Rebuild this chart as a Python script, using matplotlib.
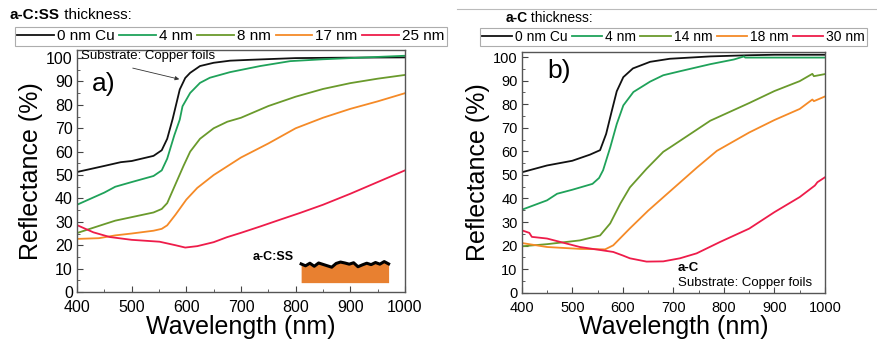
import numpy as np
import matplotlib
matplotlib.use("Agg")
from matplotlib import pyplot as plt
from matplotlib.ticker import MultipleLocator

plt.rcParams['font.family'] = ['Liberation Sans', 'DejaVu Sans']

# ---- panel a) a-C:SS on copper foils
wl_a = [400, 450, 480, 500, 540, 555, 565, 575, 588, 598, 607, 625, 650, 680, 720, 800, 900, 1000]
cu_a = [51.3, 53.9, 55.5, 56.0, 58.2, 60.6, 65.5, 74.0, 86.6, 91.5, 93.7, 96.6, 98.0, 98.9, 99.3, 100.0, 100.2, 100.3]
wl_a4 = [400, 450, 470, 500, 540, 555, 565, 578, 588, 593, 607, 625, 643, 680, 735, 790, 850, 900, 1000]
c4_a = [37.3, 42.5, 45.0, 47.0, 49.6, 52.0, 57.0, 67.0, 73.7, 79.4, 85.1, 89.4, 91.6, 94.0, 96.6, 98.7, 99.5, 100.0, 101.0]
wl_a8 = [400, 450, 470, 500, 540, 555, 565, 580, 595, 607, 625, 650, 675, 700, 750, 800, 850, 900, 950, 1000]
c8_a = [25.2, 29.0, 30.5, 32.0, 34.0, 35.5, 38.0, 46.0, 54.0, 60.0, 65.5, 70.0, 72.8, 74.5, 79.5, 83.5, 86.8, 89.3, 91.2, 92.8]
wl_a17 = [400, 440, 470, 500, 540, 555, 565, 580, 600, 620, 650, 680, 700, 750, 800, 850, 900, 950, 1000]
c17_a = [22.7, 23.0, 24.2, 25.0, 26.2, 27.0, 28.5, 33.0, 39.5, 44.5, 50.0, 54.5, 57.5, 63.5, 70.0, 74.5, 78.3, 81.5, 85.0]
wl_a25 = [400, 430, 460, 500, 551, 580, 598, 620, 650, 674, 700, 735, 770, 808, 850, 900, 950, 1000]
c25_a = [28.6, 25.5, 23.5, 22.3, 21.5, 20.0, 19.0, 19.6, 21.3, 23.4, 25.3, 28.0, 30.8, 33.8, 37.3, 42.0, 47.0, 52.0]

# ---- panel b) a-C on copper foils
wl_b = [400, 450, 500, 535, 555, 567, 578, 588, 601, 620, 654, 693, 773, 850, 900, 1000]
cu_b = [51.1, 54.0, 56.0, 58.6, 60.5, 67.4, 77.0, 85.5, 91.5, 95.2, 98.0, 99.3, 100.3, 100.8, 101.0, 101.0]
wl_b4 = [400, 450, 470, 500, 540, 553, 561, 575, 588, 601, 621, 654, 680, 713, 773, 820, 840, 842, 1000]
c4_b = [35.2, 39.2, 42.0, 43.7, 46.2, 48.7, 52.0, 61.6, 71.6, 79.5, 85.2, 89.6, 92.3, 94.0, 97.0, 99.0, 100.3, 99.8, 99.8]
wl_b14 = [400, 450, 515, 555, 575, 595, 614, 647, 680, 693, 733, 773, 850, 900, 950, 975, 978, 1000]
c14_b = [19.7, 20.6, 22.2, 24.3, 29.4, 37.8, 44.7, 52.6, 59.8, 61.6, 67.3, 73.0, 80.5, 85.6, 89.8, 92.9, 91.9, 92.8]
wl_b18 = [400, 450, 515, 565, 581, 614, 650, 680, 746, 786, 850, 900, 950, 975, 978, 1000]
c18_b = [21.1, 19.4, 18.6, 18.4, 20.1, 27.3, 34.8, 40.5, 53.0, 60.2, 68.0, 73.3, 78.0, 82.0, 81.3, 83.3]
wl_b30 = [400, 415, 420, 450, 515, 581, 600, 614, 647, 680, 713, 746, 792, 850, 900, 950, 980, 985, 1000]
c30_b = [26.5, 25.4, 23.7, 23.0, 19.4, 17.3, 15.8, 14.6, 13.2, 13.3, 14.6, 16.7, 21.5, 27.2, 34.2, 40.6, 45.5, 46.9, 49.0]

# schematic film profile (inset of panel a)
film_x = [810, 818, 826, 834, 842, 850, 858, 866, 874, 882, 890, 898, 906, 914, 922, 930, 938, 946, 954, 962, 970]
film_top = [12.0, 11.2, 12.3, 11.0, 12.4, 11.8, 11.2, 10.6, 12.2, 12.8, 12.4, 11.9, 12.5, 10.8, 11.6, 12.3, 11.7, 12.6, 11.9, 13.0, 12.0]

colors = ['#111111', '#1fa25a', '#6a9a2c', '#f58a27', '#ee1c4a']
labels_a = ['0 nm Cu', '4 nm', '8 nm', '17 nm', '25 nm']
labels_b = ['0 nm Cu', '4 nm', '14 nm', '18 nm', '30 nm']

fig = plt.figure(figsize=(8.77, 3.56), dpi=100)
ax1 = fig.add_axes([0.0878, 0.1798, 0.374, 0.680])
ax2 = fig.add_axes([0.5949, 0.1778, 0.3458, 0.677])

series_a = [(wl_a, cu_a), (wl_a4, c4_a), (wl_a8, c8_a), (wl_a17, c17_a), (wl_a25, c25_a)]
series_b = [(wl_b, cu_b), (wl_b4, c4_b), (wl_b14, c14_b), (wl_b18, c18_b), (wl_b30, c30_b)]

lines_a = []
for (x, y), c, l in zip(series_a, colors, labels_a):
    ln, = ax1.plot(x, y, color=c, lw=1.3, label=l)
    lines_a.append(ln)
lines_b = []
for (x, y), c, l in zip(series_b, colors, labels_b):
    ln, = ax2.plot(x, y, color=c, lw=1.3, label=l)
    lines_b.append(ln)

for ax, top, fs in ((ax1, 103.5, 11.5), (ax2, 102.3, 10.5)):
    ax.set_xlim(400, 1000)
    ax.set_ylim(0, top)
    ax.xaxis.set_major_locator(MultipleLocator(100))
    ax.xaxis.set_minor_locator(MultipleLocator(50))
    ax.yaxis.set_major_locator(MultipleLocator(10))
    ax.yaxis.set_minor_locator(MultipleLocator(5))
    ax.tick_params(which='both', direction='in', labelsize=fs, color='#444444', pad=3)
    ax.tick_params(axis='x', which='major', pad=6)
    ax.tick_params(which='major', length=4)
    ax.tick_params(which='minor', length=2)
    for s in ax.spines.values():
        s.set_color('#555555')
        s.set_linewidth(1.0)
    ax.set_xlabel('Wavelength (nm)', fontsize=18, labelpad=0)
    ax.set_ylabel('Reflectance (%)', fontsize=18, labelpad=2)

# panel a annotations
ax1.text(408, 101, 'Substrate: Copper foils', fontsize=9.5, va='center', ha='left')
ax1.annotate('', xy=(592, 90.7), xytext=(497, 96),
             arrowprops=dict(arrowstyle='-|>', color='#333333', lw=0.6, mutation_scale=6))
ax1.text(427, 89, 'a)', fontsize=19, va='center', ha='left')
ax1.fill_between(film_x, 4, film_top, color='#e88030', lw=0)
ax1.plot(film_x, film_top, color='black', lw=2.2)
ax1.text(722, 15, 'a-C:SS', fontsize=9, fontweight='bold', va='center', ha='left')

# panel b annotations
ax2.text(450, 94, 'b)', fontsize=19, va='center', ha='left')
ax2.text(709, 10.4, 'a-C', fontsize=9.5, fontweight='bold', va='center', ha='left')
ax2.text(709, 4.1, 'Substrate: Copper foils', fontsize=9.5, va='center', ha='left')


def title(x, y, bold, rest, fs):
    t = fig.text(x, y, bold, fontsize=fs, fontweight='bold', va='center')
    fig.canvas.draw()
    bb = t.get_window_extent()
    x1 = fig.transFigure.inverted().transform((bb.x1, 0))[0]
    fig.text(x1, y, rest, fontsize=fs, va='center')


title(0.011, 0.958, 'a-C:SS', ' thickness:', 11)
title(0.576, 0.949, 'a-C', ' thickness:', 10)

leg_kw = dict(ncol=5, frameon=True, fancybox=False, handletextpad=0.2,
              columnspacing=0.3, borderpad=0.15, borderaxespad=0)
lg1 = fig.legend(handles=lines_a, loc='upper left', bbox_to_anchor=(0.017, 0.924),
                 fontsize=11, handlelength=2.4, **leg_kw)
lg2 = fig.legend(handles=lines_b, loc='upper left', bbox_to_anchor=(0.547, 0.921),
                 fontsize=10, handlelength=2.2, **leg_kw)
for lg in (lg1, lg2):
    lg.get_frame().set_edgecolor('#999999')
    lg.get_frame().set_linewidth(0.8)

# thin grey rule at the top right
fig.add_artist(plt.Line2D([0.521, 1.0], [0.974, 0.974], transform=fig.transFigure,
                          color='#bbbbbb', lw=0.8))

fig.savefig('out.png', dpi=100)
